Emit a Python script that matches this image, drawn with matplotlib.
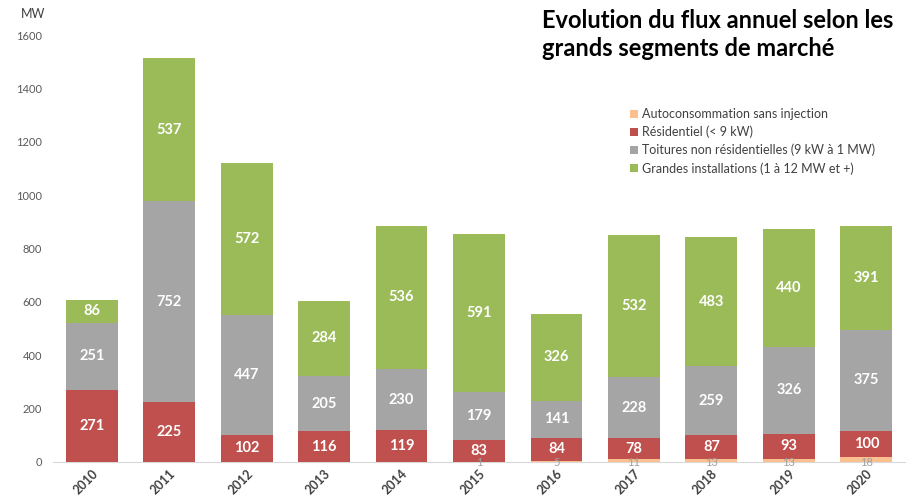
import matplotlib
matplotlib.use("Agg")
import matplotlib.pyplot as plt
import numpy as np

years = ["2010", "2011", "2012", "2013", "2014", "2015", "2016", "2017", "2018", "2019", "2020"]
autoconso = [0, 0, 0, 0, 0, 1, 5, 11, 13, 13, 18]
residentiel = [271, 225, 102, 116, 119, 83, 84, 78, 87, 93, 100]
toitures = [251, 752, 447, 205, 230, 179, 141, 228, 259, 326, 375]
grandes = [86, 537, 572, 284, 536, 591, 326, 532, 483, 440, 391]

names = ["Autoconsommation sans injection", "Résidentiel (< 9 kW)",
         "Toitures non résidentielles (9 kW à 1 MW)", "Grandes installations (1 à 12 MW et +)"]
colors = ["#FAC090", "#C0504D", "#A5A5A5", "#9BBB59"]

plt.rcParams['font.family'] = ['Lato', 'DejaVu Sans']

fig = plt.figure(figsize=(9.09, 5.01), dpi=100)
ax = fig.add_axes([53/909, 1-462/501, 852/909, (462-35)/501])

x = np.arange(len(years))
w = 0.67
series = [autoconso, residentiel, toitures, grandes]
bottom = np.zeros(len(years))
bars = []
for vals, c, n in zip(series, colors, names):
    b = ax.bar(x, vals, w, bottom=bottom, color=c, label=n, zorder=2)
    bars.append((b, vals, bottom.copy()))
    bottom += np.array(vals)

for i, (b, vals, bot) in enumerate(bars):
    for j, v in enumerate(vals):
        if v == 0:
            continue
        if i == 0:
            ax.text(x[j], -3, str(v), ha='center', va='center', color='#A0A0A0', fontsize=8, zorder=3)
        else:
            ax.text(x[j], bot[j] + v/2, str(v), ha='center', va='center', color='white',
                    fontsize=10.5, fontweight='bold', zorder=3)

ax.set_xlim(-0.5, 10.5)
ax.set_ylim(0, 1600)
ax.set_yticks(range(0, 1601, 200))
ax.tick_params(axis='y', length=0, labelsize=8, labelcolor='#595959', pad=8)
ax.tick_params(axis='x', length=0, labelsize=9, labelcolor='#404040', pad=4)
ax.set_xticks(x)
ax.set_xticklabels(years, rotation=45, ha='right', rotation_mode='anchor', fontweight='bold')
for s in ['top', 'right', 'left']:
    ax.spines[s].set_visible(False)
ax.spines['bottom'].set_color('#D9D9D9')
ax.spines['bottom'].set_zorder(1)

fig.text(21/909, 1-14/501, "MW", fontsize=9, color='#404040', va='center', ha='left')
fig.text(542/909, 1-20/501, "Evolution du flux annuel selon les", fontsize=17, fontweight='bold',
         color='black', va='center', ha='left')
fig.text(542/909, 1-48/501, "grands segments de marché", fontsize=17, fontweight='bold',
         color='black', va='center', ha='left')

leg = ax.legend(loc='upper left', bbox_to_anchor=(630/909, 1-108/501), bbox_transform=fig.transFigure,
                frameon=False, fontsize=9, handlelength=0.6, handleheight=0.6, handletextpad=0.4,
                labelspacing=0.45, borderaxespad=0, borderpad=0)
for t in leg.get_texts():
    t.set_color('#404040')

fig.savefig("out.png", dpi=100)
